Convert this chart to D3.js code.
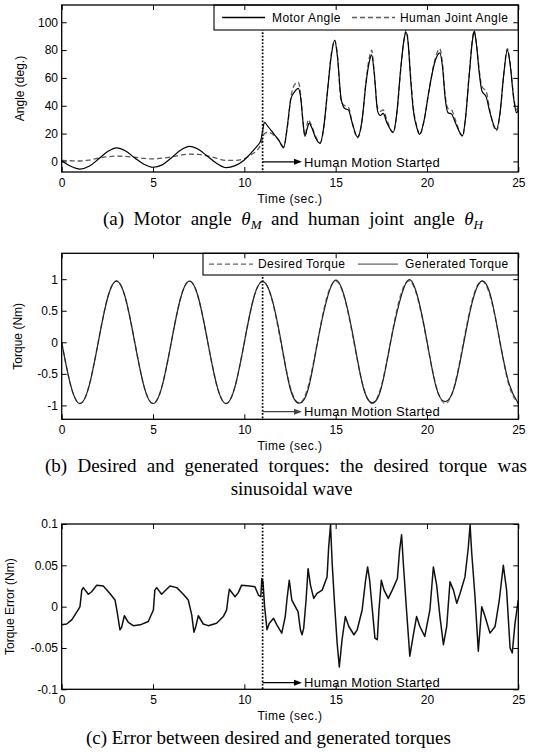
<!DOCTYPE html>
<html><head><meta charset="utf-8">
<script src="https://cdn.jsdelivr.net/npm/d3@7"></script>
<style>
html,body{margin:0;padding:0;background:#fff;}
svg{display:block;}
</style></head><body>
<svg id="chart" width="539" height="754"></svg>
<script>
// ---------------- DATA ----------------
const timeTicks = [0, 5, 10, 15, 20, 25];
const angleTicks = [0, 20, 40, 60, 80, 100];
const angleTickLabels = ["0", "20", "40", "60", "80", "100"];
const torqueTicks = [-1, -0.5, 0, 0.5, 1];
const torqueTickLabels = ["-1", "-0.5", "0", "0.5", "1"];
const errTicks = [-0.1, -0.05, 0, 0.05, 0.1];
const errTickLabels = ["-0.1", "-0.05", "0", "0.05", "0.1"];
const motionStart = 11;

// Motor angle [time s, deg]
const motorAngle = [[0,0.5],[0.5,-3.5],[1,-5.5],[1.5,-3.5],[2,1.5],[2.5,7],[3,9.8],[3.5,7.5],[4,2.5],[4.5,-2],[5,-4.2],[5.5,-2.5],[6,2.5],[6.5,8],[7,10.8],[7.5,8.5],[8,3.5],[8.5,-1.5],[9,-4.5],[9.5,-3],[10,1],[10.3,5],[10.5,8],[10.7,11],[10.9,15],[11.0,22],[11.1,28],[11.3,25],[11.6,20],[11.9,15],[12.15,9.8],[12.35,25],[12.55,45],[12.75,50],[12.95,52.5],[13.1,44],[13.2,30],[13.32,18],[13.45,24],[13.55,27.5],[13.7,24],[13.9,17],[14.15,13],[14.35,25],[14.55,50],[14.75,75],[14.95,87],[15.1,75],[15.3,45],[15.5,38],[15.7,37],[15.9,28],[16.2,17.5],[16.45,30],[16.65,55],[16.85,72],[16.97,76.5],[17.1,65],[17.3,36],[17.45,33],[17.6,34.5],[17.8,28],[18.15,21],[18.35,35],[18.55,65],[18.75,88],[18.85,93],[18.97,85],[19.1,60],[19.25,37],[19.45,24],[19.6,19.5],[19.85,30],[20.1,50],[20.4,70],[20.7,78],[20.85,68],[21.0,45],[21.15,35],[21.35,34],[21.55,28],[21.95,18.5],[22.1,30],[22.3,60],[22.5,88],[22.58,93.5],[22.7,85],[22.85,65],[23.0,51],[23.25,46],[23.45,35],[23.8,23],[24.0,35],[24.2,62],[24.4,80],[24.55,70],[24.75,45],[24.9,35],[25.0,37]];

// Human joint angle [time s, deg]
const humanAngle = [[0,0.8],[0.5,0.5],[1,0.3],[1.5,1],[2,2.3],[2.5,3.3],[3,3.8],[3.5,3.6],[4,3],[4.5,2.2],[5,1.8],[5.5,2.3],[6,3.3],[6.5,4.5],[7,5.2],[7.5,5],[8,4],[8.5,2.2],[9,0.8],[9.5,0.8],[10,2],[10.4,5],[10.7,8],[10.9,12],[11.1,20],[11.3,21],[11.6,19],[11.9,15],[12.15,10.5],[12.35,24],[12.55,46],[12.8,56],[12.95,57],[13.1,46],[13.2,30],[13.32,18.5],[13.5,30],[13.7,25],[13.9,18],[14.15,13.5],[14.35,24],[14.55,50],[14.75,76],[14.95,87],[15.1,76],[15.3,43],[15.5,40],[15.7,39],[15.9,28],[16.2,17],[16.45,30],[16.65,56],[16.85,75],[16.97,80],[17.1,66],[17.3,38],[17.45,36],[17.6,37],[17.8,30],[18.15,20.5],[18.35,34],[18.55,64],[18.75,88],[18.85,94],[18.97,86],[19.1,62],[19.25,39],[19.45,25],[19.6,19],[19.85,30],[20.1,50],[20.4,71],[20.7,81],[20.85,70],[21.0,47],[21.15,38],[21.35,37],[21.55,30],[21.95,18],[22.1,30],[22.3,61],[22.5,89],[22.58,94],[22.7,86],[22.85,67],[23.0,54],[23.25,50],[23.45,36],[23.8,22],[24.0,34],[24.2,62],[24.4,81],[24.55,71],[24.75,46],[24.9,37],[25.0,40]];

// Torques (Nm) sampled every 0.5 s
const torqueTime = [0,0.5,1,1.5,2,2.5,3,3.5,4,4.5,5,5.5,6,6.5,7,7.5,8,8.5,9,9.5,10,10.5,11,11.5,12,12.5,13,13.5,14,14.5,15,15.5,16,16.5,17,17.5,18,18.5,19,19.5,20,20.5,21,21.5,22,22.5,23,23.5,24,24.5,25];
const desiredTorque = [0,-0.69,-0.97,-0.69,0,0.69,0.97,0.69,0,-0.69,-0.97,-0.69,0,0.69,0.97,0.69,0,-0.69,-0.97,-0.69,0,0.69,0.97,0.69,0,-0.69,-0.97,-0.69,0,0.69,0.97,0.69,0,-0.69,-0.97,-0.69,0,0.69,0.97,0.69,0,-0.69,-0.97,-0.69,0,0.69,0.97,0.69,0,-0.69,-0.97];
const generatedTorque = [0,-0.69,-0.97,-0.69,0,0.69,0.97,0.69,0,-0.69,-0.97,-0.69,0,0.69,0.97,0.69,0,-0.69,-0.97,-0.69,0,0.69,0.96,0.70,0.03,-0.72,-0.965,-0.74,-0.01,0.66,0.985,0.70,0.03,-0.70,-0.96,-0.72,-0.01,0.64,0.99,0.71,0.02,-0.71,-0.94,-0.71,-0.03,0.66,0.97,0.72,0,-0.66,-0.97];

// Torque error [time s, Nm]
const torqueError = [[0,-0.022],[0.27,-0.021],[0.55,-0.016],[0.9,-0.004],[1.0,0],[1.1,0.020],[1.18,0.023],[1.46,0.015],[1.64,0.018],[1.92,0.026],[2.28,0.025],[2.64,0.016],[2.92,0.008],[3.05,-0.008],[3.19,-0.028],[3.28,-0.025],[3.43,-0.011],[3.65,-0.019],[3.92,-0.023],[4.3,-0.022],[4.74,-0.018],[5.02,-0.004],[5.1,0.020],[5.2,0.023],[5.47,0.015],[5.65,0.019],[5.93,0.025],[6.3,0.023],[6.66,0.015],[6.93,0.008],[7.12,-0.010],[7.24,-0.031],[7.33,-0.025],[7.48,-0.011],[7.75,-0.021],[8.03,-0.023],[8.48,-0.020],[8.85,-0.012],[9.03,-0.004],[9.12,0.012],[9.18,0.021],[9.49,0.012],[9.67,0.017],[9.85,0.026],[10.3,0.025],[10.58,0.024],[10.77,0.014],[10.9,0.012],[10.96,0.034],[11.02,0.030],[11.11,0],[11.24,-0.028],[11.37,-0.020],[11.6,-0.014],[11.78,-0.022],[12.05,-0.032],[12.24,-0.012],[12.33,0.008],[12.46,0.032],[12.6,0.008],[12.79,0],[12.94,-0.006],[13.07,-0.028],[13.16,-0.034],[13.25,-0.026],[13.38,0.008],[13.49,0.046],[13.62,0.026],[13.8,0.010],[13.98,0.016],[14.26,0.020],[14.53,0.036],[14.62,0.073],[14.72,0.099],[14.81,0.052],[14.95,0],[15.08,-0.044],[15.2,-0.073],[15.35,-0.040],[15.53,-0.012],[15.72,-0.024],[16.0,-0.034],[16.18,-0.028],[16.45,-0.004],[16.64,0.032],[16.75,0.048],[16.86,0.032],[17.01,-0.004],[17.15,-0.038],[17.28,-0.040],[17.37,-0.004],[17.5,0.032],[17.65,0.020],[17.88,0.010],[18.1,0.020],[18.38,0.034],[18.5,0.068],[18.61,0.087],[18.7,0.054],[18.88,-0.004],[19.06,-0.060],[19.24,-0.036],[19.43,-0.012],[19.61,-0.024],[19.88,-0.036],[20.16,-0.004],[20.35,0.048],[20.53,0.026],[20.71,-0.012],[20.9,-0.046],[21.08,-0.024],[21.26,0.030],[21.45,0.020],[21.63,0.004],[21.81,0.016],[22.08,0.036],[22.26,0.071],[22.36,0.099],[22.45,0.065],[22.63,0.012],[22.81,-0.054],[23.0,0],[23.18,-0.012],[23.45,-0.032],[23.73,-0.024],[23.96,0.008],[24.18,0.050],[24.36,0.020],[24.55,-0.050],[24.67,-0.056],[24.82,-0.020],[25.0,0.008]];

// ---------------- DRAW ----------------
const SANS = '"Liberation Sans", Arial, Helvetica, sans-serif';
const SERIF = '"Liberation Serif", "Times New Roman", serif';
const svg = d3.select("#chart");
const X0 = 61.7, X1 = 518.3;
const x = d3.scaleLinear().domain([0, 25]).range([X0, X1]);

function makePanel(id, top, bottom, domain) {
  const y = d3.scaleLinear().domain(domain).range([bottom, top]);
  svg.append("clipPath").attr("id", id).append("rect")
    .attr("x", X0).attr("y", top).attr("width", X1 - X0).attr("height", bottom - top);
  const g = svg.append("g");
  const plot = g.append("g").attr("clip-path", `url(#${id})`);
  return { y, g, plot, top, bottom };
}

function finishPanel(p, ticks, labels, ylabel, ylabelX) {
  const g = p.g;
  const style = sel => {
    sel.select(".domain").remove();
    sel.selectAll(".tick line").attr("stroke", "#000").attr("stroke-width", 1);
    sel.selectAll("text").attr("fill", "#000").attr("font-size", 12).attr("font-family", SANS);
  };
  g.append("g").attr("transform", `translate(0,${p.bottom})`)
    .call(d3.axisBottom(x).tickValues(timeTicks).tickSize(-5).tickPadding(6.5).tickFormat(d3.format("d")))
    .call(style);
  g.append("g").attr("transform", `translate(0,${p.top})`)
    .call(d3.axisTop(x).tickValues(timeTicks).tickSize(-5).tickFormat(() => ""))
    .call(style);
  g.append("g").attr("transform", `translate(${X0},0)`)
    .call(d3.axisLeft(p.y).tickValues(ticks).tickSize(-5).tickPadding(3.7).tickFormat((d, i) => labels[i]))
    .call(style);
  g.append("g").attr("transform", `translate(${X1},0)`)
    .call(d3.axisRight(p.y).tickValues(ticks).tickSize(-5).tickFormat(() => ""))
    .call(style);
  g.append("rect").attr("x", X0).attr("y", p.top).attr("width", X1 - X0).attr("height", p.bottom - p.top)
    .attr("fill", "none").attr("stroke", "#000").attr("stroke-width", 1.3);
  g.append("text").attr("x", 290).attr("y", p.bottom + 31)
    .attr("text-anchor", "middle").attr("font-family", SANS).attr("font-size", 12)
    .attr("letter-spacing", 0.5).text("Time (sec.)");
  g.append("text").attr("transform", `translate(${ylabelX},${(p.top + p.bottom) / 2}) rotate(-90)`)
    .attr("text-anchor", "middle").attr("dominant-baseline", "central")
    .attr("font-family", SANS).attr("font-size", 12).text(ylabel);
}

function dotted(p, fromY) {
  p.g.append("line").attr("x1", x(motionStart)).attr("x2", x(motionStart))
    .attr("y1", fromY).attr("y2", p.bottom)
    .attr("stroke", "#000").attr("stroke-width", 1.7).attr("stroke-dasharray", "1.7,1.7");
}

function annotate(p, ay, color) {
  const xs = x(motionStart), xe = 302;
  p.g.append("line").attr("x1", xs).attr("x2", xe - 7).attr("y1", ay).attr("y2", ay)
    .attr("stroke", color).attr("stroke-width", 1.2);
  p.g.append("path").attr("d", `M${xe},${ay} L${xe - 8},${ay - 3} L${xe - 8},${ay + 3} Z`).attr("fill", color);
  p.g.append("text").attr("x", 304).attr("y", ay + 4.7)
    .attr("font-family", SANS).attr("font-size", 13).attr("letter-spacing", 0.3)
    .attr("fill", "#000").text("Human Motion Started");
}

function legend(p, box, entries) {
  const g = p.g.append("g");
  g.append("rect").attr("x", box[0]).attr("y", box[1]).attr("width", box[2] - box[0]).attr("height", box[3] - box[1])
    .attr("fill", "#fff").attr("stroke", "#000").attr("stroke-width", 1.1);
  const cy = (box[1] + box[3]) / 2;
  entries.forEach(e => {
    g.append("line").attr("x1", e.l0).attr("x2", e.l1).attr("y1", cy).attr("y2", cy)
      .attr("stroke", e.color).attr("stroke-width", 1.3).attr("stroke-dasharray", e.dash || null);
    g.append("text").attr("x", e.tx).attr("y", cy + 4.3).attr("font-family", SANS)
      .attr("font-size", 12).attr("letter-spacing", 0.45).attr("fill", "#000").text(e.label);
  });
}

// ---- Panel (a)
const pa = makePanel("clipA", 5, 172, [-7.6, 112.4]);
const lineA = d3.line().x(d => x(d[0])).y(d => pa.y(d[1])).curve(d3.curveMonotoneX);
pa.plot.append("path").datum(humanAngle).attr("d", lineA).attr("fill", "none")
  .attr("stroke", "#5a5a5a").attr("stroke-width", 1.3).attr("stroke-dasharray", "5,3");
pa.plot.append("path").datum(motorAngle).attr("d", lineA).attr("fill", "none")
  .attr("stroke", "#000").attr("stroke-width", 1.2).attr("stroke-linejoin", "round");
dotted(pa, pa.top);
annotate(pa, 161.8, "#000");
legend(pa, [214, 5, X1, 30], [
  { l0: 222, l1: 265, color: "#000", tx: 272, label: "Motor Angle" },
  { l0: 352, l1: 395, color: "#5a5a5a", dash: "5,3", tx: 400, label: "Human Joint Angle" }
]);
finishPanel(pa, angleTicks, angleTickLabels, "Angle (deg.)", 20);

// ---- Panel (b)
const pb = makePanel("clipB", 253.3, 419.3, [-1.22, 1.41]);
const lineB = vals => d3.line().x((d, i) => x(torqueTime[i])).y(d => pb.y(d)).curve(d3.curveNatural)(vals);
pb.plot.append("path").attr("d", lineB(desiredTorque)).attr("fill", "none")
  .attr("stroke", "#777").attr("stroke-width", 1.4).attr("stroke-dasharray", "5,3");
pb.plot.append("path").attr("d", lineB(generatedTorque)).attr("fill", "none")
  .attr("stroke", "#222").attr("stroke-width", 1.2);
dotted(pb, pb.top);
annotate(pb, 411.7, "#444");
legend(pb, [203, 253.3, X1, 275], [
  { l0: 209, l1: 253, color: "#666", dash: "5,3", tx: 258, label: "Desired Torque" },
  { l0: 358, l1: 398, color: "#666", tx: 405, label: "Generated Torque" }
]);
finishPanel(pb, torqueTicks, torqueTickLabels, "Torque (Nm)", 18);

// ---- Panel (c)
const pc = makePanel("clipC", 524, 689.3, [-0.1, 0.1]);
const lineC = d3.line().x(d => x(d[0])).y(d => pc.y(d[1]));
pc.plot.append("path").datum(torqueError).attr("d", lineC).attr("fill", "none")
  .attr("stroke", "#111").attr("stroke-width", 1.5).attr("stroke-linejoin", "round");
dotted(pc, pc.top);
annotate(pc, 682.7, "#000");
finishPanel(pc, errTicks, errTickLabels, "Torque Error (Nm)", 10);

// ---- Captions (word spacing stretched to the measured caption width when given)
function caption(cx, by, width, parts) {
  const t = svg.append("text").attr("x", cx).attr("y", by).attr("text-anchor", "middle")
    .attr("font-family", SERIF).attr("font-size", 19).attr("fill", "#000");
  let spaces = 0;
  parts.forEach(p => {
    const s = t.append("tspan").text(p.t);
    spaces += (p.t.match(/ /g) || []).length;
    if (p.it) s.attr("font-style", "italic");
    if (p.sub) s.attr("font-size", 13).attr("dy", 4);
    if (p.up) s.attr("dy", -4);
  });
  if (width) {
    const natural = t.node().getComputedTextLength();
    if (spaces > 0 && width > natural) t.style("word-spacing", ((width - natural) / spaces) + "px");
  }
}
caption(293, 225, 380, [
  { t: "(a) Motor angle " }, { t: "θ", it: true }, { t: "M", it: true, sub: true },
  { t: " and human joint angle ", up: true }, { t: "θ", it: true }, { t: "H", it: true, sub: true }
]);
caption(286, 472, 482, [{ t: "(b) Desired and generated torques: the desired torque was" }]);
caption(291.6, 495, 0, [{ t: "sinusoidal wave" }]);
caption(268.4, 744, 0, [{ t: "(c) Error between desired and generated torques" }]);
</script>
</body></html>
